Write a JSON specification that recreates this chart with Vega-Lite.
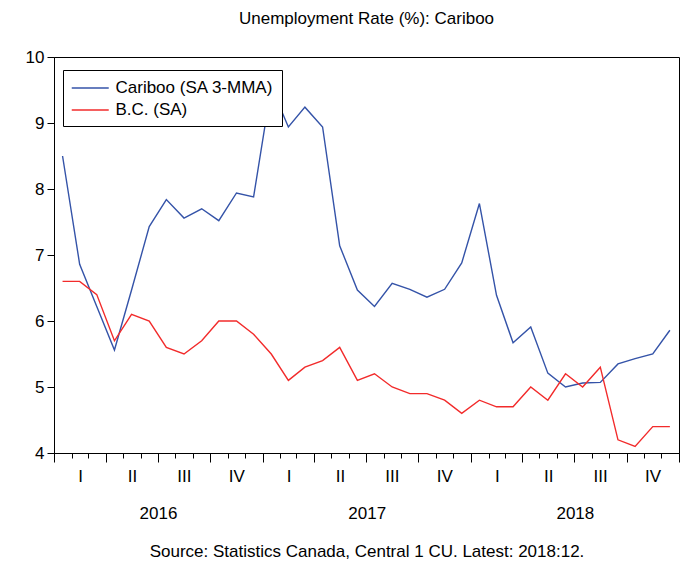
{
  "$schema": "https://vega.github.io/schema/vega-lite/v6.json",
  "width": 625,
  "height": 396,
  "autosize": {"type": "none"},
  "padding": {"left": 54, "top": 57, "right": 12, "bottom": 128},
  "background": "white",
  "title": {
    "text": "Unemployment Rate (%): Cariboo",
    "fontSize": 17,
    "fontWeight": "normal",
    "font": "Liberation Sans",
    "color": "black",
    "anchor": "middle",
    "offset": 20
  },
  "config": {
    "font": "Liberation Sans",
    "view": {"stroke": "black", "strokeWidth": 1},
    "axis": {
      "grid": false,
      "labelFont": "Liberation Sans",
      "labelFontSize": 17,
      "labelColor": "black",
      "domainColor": "black",
      "tickColor": "black",
      "titleFont": "Liberation Sans",
      "titleFontSize": 17,
      "titleFontWeight": "normal",
      "titleColor": "black"
    },
    "legend": {
      "orient": "none",
      "legendX": 9,
      "legendY": 13,
      "strokeColor": "black",
      "fillColor": "white",
      "padding": 8,
      "symbolType": "M-1,0H3",
      "symbolSize": 342,
      "symbolStrokeWidth": 1.5,
      "labelOffset": 24.5,
      "labelFont": "Liberation Sans",
      "labelFontSize": 17,
      "labelColor": "black",
      "rowPadding": 4
    }
  },
  "data": {
    "values": [
      {"date": "2016-01-16", "series": "Cariboo (SA 3-MMA)", "value": 8.50},
      {"date": "2016-02-15", "series": "Cariboo (SA 3-MMA)", "value": 6.86},
      {"date": "2016-03-16", "series": "Cariboo (SA 3-MMA)", "value": 6.22},
      {"date": "2016-04-16", "series": "Cariboo (SA 3-MMA)", "value": 5.56},
      {"date": "2016-05-16", "series": "Cariboo (SA 3-MMA)", "value": 6.47},
      {"date": "2016-06-16", "series": "Cariboo (SA 3-MMA)", "value": 7.43},
      {"date": "2016-07-16", "series": "Cariboo (SA 3-MMA)", "value": 7.84},
      {"date": "2016-08-16", "series": "Cariboo (SA 3-MMA)", "value": 7.56},
      {"date": "2016-09-16", "series": "Cariboo (SA 3-MMA)", "value": 7.70},
      {"date": "2016-10-16", "series": "Cariboo (SA 3-MMA)", "value": 7.52},
      {"date": "2016-11-16", "series": "Cariboo (SA 3-MMA)", "value": 7.94},
      {"date": "2016-12-16", "series": "Cariboo (SA 3-MMA)", "value": 7.88},
      {"date": "2017-01-16", "series": "Cariboo (SA 3-MMA)", "value": 9.55},
      {"date": "2017-02-15", "series": "Cariboo (SA 3-MMA)", "value": 8.94},
      {"date": "2017-03-16", "series": "Cariboo (SA 3-MMA)", "value": 9.24},
      {"date": "2017-04-16", "series": "Cariboo (SA 3-MMA)", "value": 8.94},
      {"date": "2017-05-16", "series": "Cariboo (SA 3-MMA)", "value": 7.14},
      {"date": "2017-06-16", "series": "Cariboo (SA 3-MMA)", "value": 6.47},
      {"date": "2017-07-16", "series": "Cariboo (SA 3-MMA)", "value": 6.22},
      {"date": "2017-08-16", "series": "Cariboo (SA 3-MMA)", "value": 6.57},
      {"date": "2017-09-16", "series": "Cariboo (SA 3-MMA)", "value": 6.48},
      {"date": "2017-10-16", "series": "Cariboo (SA 3-MMA)", "value": 6.36},
      {"date": "2017-11-16", "series": "Cariboo (SA 3-MMA)", "value": 6.48},
      {"date": "2017-12-16", "series": "Cariboo (SA 3-MMA)", "value": 6.88},
      {"date": "2018-01-16", "series": "Cariboo (SA 3-MMA)", "value": 7.78},
      {"date": "2018-02-15", "series": "Cariboo (SA 3-MMA)", "value": 6.39},
      {"date": "2018-03-16", "series": "Cariboo (SA 3-MMA)", "value": 5.67},
      {"date": "2018-04-16", "series": "Cariboo (SA 3-MMA)", "value": 5.91},
      {"date": "2018-05-16", "series": "Cariboo (SA 3-MMA)", "value": 5.21},
      {"date": "2018-06-16", "series": "Cariboo (SA 3-MMA)", "value": 5.00},
      {"date": "2018-07-16", "series": "Cariboo (SA 3-MMA)", "value": 5.06},
      {"date": "2018-08-16", "series": "Cariboo (SA 3-MMA)", "value": 5.07},
      {"date": "2018-09-16", "series": "Cariboo (SA 3-MMA)", "value": 5.35},
      {"date": "2018-10-16", "series": "Cariboo (SA 3-MMA)", "value": 5.43},
      {"date": "2018-11-16", "series": "Cariboo (SA 3-MMA)", "value": 5.50},
      {"date": "2018-12-16", "series": "Cariboo (SA 3-MMA)", "value": 5.86},
      {"date": "2016-01-16", "series": "B.C. (SA)", "value": 6.6},
      {"date": "2016-02-15", "series": "B.C. (SA)", "value": 6.6},
      {"date": "2016-03-16", "series": "B.C. (SA)", "value": 6.4},
      {"date": "2016-04-16", "series": "B.C. (SA)", "value": 5.7},
      {"date": "2016-05-16", "series": "B.C. (SA)", "value": 6.1},
      {"date": "2016-06-16", "series": "B.C. (SA)", "value": 6.0},
      {"date": "2016-07-16", "series": "B.C. (SA)", "value": 5.6},
      {"date": "2016-08-16", "series": "B.C. (SA)", "value": 5.5},
      {"date": "2016-09-16", "series": "B.C. (SA)", "value": 5.7},
      {"date": "2016-10-16", "series": "B.C. (SA)", "value": 6.0},
      {"date": "2016-11-16", "series": "B.C. (SA)", "value": 6.0},
      {"date": "2016-12-16", "series": "B.C. (SA)", "value": 5.8},
      {"date": "2017-01-16", "series": "B.C. (SA)", "value": 5.5},
      {"date": "2017-02-15", "series": "B.C. (SA)", "value": 5.1},
      {"date": "2017-03-16", "series": "B.C. (SA)", "value": 5.3},
      {"date": "2017-04-16", "series": "B.C. (SA)", "value": 5.4},
      {"date": "2017-05-16", "series": "B.C. (SA)", "value": 5.6},
      {"date": "2017-06-16", "series": "B.C. (SA)", "value": 5.1},
      {"date": "2017-07-16", "series": "B.C. (SA)", "value": 5.2},
      {"date": "2017-08-16", "series": "B.C. (SA)", "value": 5.0},
      {"date": "2017-09-16", "series": "B.C. (SA)", "value": 4.9},
      {"date": "2017-10-16", "series": "B.C. (SA)", "value": 4.9},
      {"date": "2017-11-16", "series": "B.C. (SA)", "value": 4.8},
      {"date": "2017-12-16", "series": "B.C. (SA)", "value": 4.6},
      {"date": "2018-01-16", "series": "B.C. (SA)", "value": 4.8},
      {"date": "2018-02-15", "series": "B.C. (SA)", "value": 4.7},
      {"date": "2018-03-16", "series": "B.C. (SA)", "value": 4.7},
      {"date": "2018-04-16", "series": "B.C. (SA)", "value": 5.0},
      {"date": "2018-05-16", "series": "B.C. (SA)", "value": 4.8},
      {"date": "2018-06-16", "series": "B.C. (SA)", "value": 5.2},
      {"date": "2018-07-16", "series": "B.C. (SA)", "value": 5.0},
      {"date": "2018-08-16", "series": "B.C. (SA)", "value": 5.3},
      {"date": "2018-09-16", "series": "B.C. (SA)", "value": 4.2},
      {"date": "2018-10-16", "series": "B.C. (SA)", "value": 4.1},
      {"date": "2018-11-16", "series": "B.C. (SA)", "value": 4.4},
      {"date": "2018-12-16", "series": "B.C. (SA)", "value": 4.4}
    ]
  },
  "resolve": {"axis": {"x": "independent"}},
  "layer": [
    {
      "mark": {"type": "point", "opacity": 0},
      "encoding": {
        "x": {
          "field": "date", "type": "temporal",
          "scale": {"type": "utc", "domain": [{"year": 2016, "month": 1, "date": 1, "utc": true}, {"year": 2019, "month": 1, "date": 1, "utc": true}]},
          "axis": {"orient": "bottom", "domain": false, "labels": false, "ticks": true, "tickSize": 9, "tickCount": {"interval": "month", "step": 3}, "title": null}
        }
      }
    },
    {
      "mark": {"type": "point", "opacity": 0},
      "encoding": {
        "x": {
          "field": "date", "type": "temporal",
          "axis": {"orient": "bottom", "domain": false, "ticks": false, "labelPadding": 15, "labelOffset": 26, "labelOverlap": false, "labelBound": false, "labelFlush": false, "tickCount": {"interval": "month", "step": 3}, "labelExpr": "utcyear(datum.value) > 2018 ? '' : (utcmonth(datum.value) == 0 ? 'I' : (utcmonth(datum.value) == 3 ? 'II' : (utcmonth(datum.value) == 6 ? 'III' : 'IV')))", "title": null}
        }
      }
    },
    {
      "mark": {"type": "point", "opacity": 0},
      "encoding": {
        "x": {
          "field": "date", "type": "temporal",
          "axis": {"orient": "bottom", "domain": false, "ticks": false, "labelPadding": 52, "labelOffset": 104, "labelOverlap": false, "labelBound": false, "labelFlush": false, "tickCount": {"interval": "year", "step": 1}, "labelExpr": "utcyear(datum.value) > 2018 ? '' : '' + utcyear(datum.value)", "title": "Source: Statistics Canada, Central 1 CU. Latest: 2018:12.", "titlePadding": 22}
        }
      }
    },
    {
      "mark": {"type": "line", "strokeWidth": 1.4, "clip": true},
      "encoding": {
        "x": {
          "field": "date", "type": "temporal",
          "axis": {"orient": "bottom", "domain": true, "labels": false, "ticks": true, "tickSize": 5, "tickCount": {"interval": "month", "step": 1}, "title": null}
        },
        "y": {
          "field": "value", "type": "quantitative",
          "scale": {"domain": [4, 10], "nice": false, "zero": false},
          "axis": {"values": [4, 5, 6, 7, 8, 9, 10], "tickSize": 7, "labelPadding": 3, "title": null, "domain": true}
        },
        "color": {
          "field": "series", "type": "nominal",
          "scale": {"domain": ["Cariboo (SA 3-MMA)", "B.C. (SA)"], "range": ["#3453A8", "#F22B2B"]},
          "legend": {"title": null}
        }
      }
    }
  ]
}
